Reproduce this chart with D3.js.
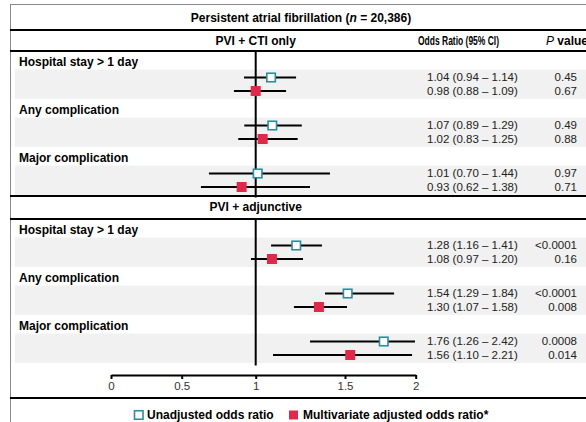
<!DOCTYPE html>
<html>
<head>
<meta charset="utf-8">
<script src="https://cdn.jsdelivr.net/npm/d3@7"></script>
<style>
  body { margin: 0; background: #fff; }
  svg { display: block; font-family: "Liberation Sans", Arial, Helvetica, sans-serif; }
  .bold { font-weight: bold; font-size: 12px; }
  .axis text { font-size: 11.5px; fill: #333; }
</style>
</head>
<body>
<div id="chart"></div>
<script>
// Data (plotted positions; labels as printed)
const sectionTitles = ['PVI + CTI only', 'PVI + adjunctive'];
const groupLabels = ['Hospital stay > 1 day', 'Any complication', 'Major complication'];

const unadjEst = [[1.086, 1.093, 1.011], [1.227, 1.519, 1.774]];
const unadjLo  = [[0.921, 0.923, 0.684], [1.086, 1.388, 1.304]];
const unadjHi  = [[1.226, 1.258, 1.416], [1.371, 1.847, 1.995]];

const adjEst = [[1.000, 1.039, 0.905], [1.091, 1.354, 1.537]];
const adjLo  = [[0.853, 0.882, 0.630], [0.968, 1.214, 1.097]];
const adjHi  = [[1.170, 1.235, 1.304], [1.265, 1.514, 1.974]];

const unadjText = [['1.04 (0.94 – 1.14)', '1.07 (0.89 – 1.29)', '1.01 (0.70 – 1.44)'],
                   ['1.28 (1.16 – 1.41)', '1.54 (1.29 – 1.84)', '1.76 (1.26 – 2.42)']];
const adjText   = [['0.98 (0.88 – 1.09)', '1.02 (0.83 – 1.25)', '0.93 (0.62 – 1.38)'],
                   ['1.08 (0.97 – 1.20)', '1.30 (1.07 – 1.58)', '1.56 (1.10 – 2.21)']];
const unadjP = [['0.45', '0.49', '0.97'], ['<0.0001', '<0.0001', '0.0008']];
const adjP   = [['0.67', '0.88', '0.71'], ['0.16', '0.008', '0.014']];

const tickVals = [0, 0.5, 1, 1.5, 2];

const W = 586, H = 422;
const teal = '#2b8d9e', red = '#e0294a', band = '#f0f1f0';

const svg = d3.select('#chart').append('svg')
    .attr('width', W)
    .attr('height', H);

// x scale follows the (uneven) tick spacing of the printed axis
const x = d3.scaleLinear()
    .domain(tickVals)
    .range([111, 181.7, 255.7, 345, 415.7]);

// frame
svg.append('rect')
    .attr('x', 10.5).attr('y', 4.5)
    .attr('width', 600).attr('height', 440)
    .attr('fill', 'none')
    .attr('stroke', '#8a8a8a');

// title
const title = svg.append('text')
    .attr('class', 'bold')
    .attr('x', 301).attr('y', 18)
    .attr('dy', '0.35em')
    .attr('text-anchor', 'middle');
title.append('tspan').text('Persistent atrial fibrillation (');
title.append('tspan').style('font-style', 'italic').text('n');
title.append('tspan').text(' = 20,386)');

// column headers
svg.append('text')
    .attr('class', 'bold')
    .attr('x', 418).attr('y', 40.5)
    .attr('dy', '0.35em')
    .attr('textLength', 81)
    .attr('lengthAdjust', 'spacingAndGlyphs')
    .text('Odds Ratio (95% CI)');
const pHead = svg.append('text')
    .attr('class', 'bold')
    .attr('x', 546).attr('y', 40.5)
    .attr('dy', '0.35em');
pHead.append('tspan').style('font-style', 'italic').style('font-weight', 'normal').text('P');
pHead.append('tspan').text(' value');

// sections
const sectionTop = [51, 219];
const sectionHeaderY = [40.5, 207];
const bandH = 29.5;
const bandTop = (s, g) => sectionTop[s] + 18.5 + g * 48;

sectionTitles.forEach((st, s) => {
  const g = svg.append('g');

  g.append('text')
      .attr('class', 'bold')
      .attr('x', x(1)).attr('y', sectionHeaderY[s])
      .attr('dy', '0.35em')
      .attr('text-anchor', 'middle')
      .text(st);

  // bands + group labels
  groupLabels.forEach((lab, gi) => {
    g.append('rect')
        .attr('x', 15).attr('y', bandTop(s, gi))
        .attr('width', W - 15).attr('height', bandH)
        .attr('fill', band);
    g.append('text')
        .attr('class', 'bold')
        .attr('x', 19).attr('y', bandTop(s, gi) - 7.5)
        .attr('dy', '0.35em')
        .text(lab);
  });

  // reference line at OR = 1
  g.append('line')
      .attr('x1', x(1)).attr('x2', x(1))
      .attr('y1', sectionTop[s])
      .attr('y2', bandTop(s, 2) + bandH + 2.5)
      .attr('stroke', '#000')
      .attr('stroke-width', 2);

  // rows
  const rows = [];
  groupLabels.forEach((lab, gi) => {
    rows.push({y: bandTop(s, gi) + 8, est: unadjEst[s][gi], lo: unadjLo[s][gi], hi: unadjHi[s][gi],
               txt: unadjText[s][gi], p: unadjP[s][gi], adj: false});
    rows.push({y: bandTop(s, gi) + 21.5, est: adjEst[s][gi], lo: adjLo[s][gi], hi: adjHi[s][gi],
               txt: adjText[s][gi], p: adjP[s][gi], adj: true});
  });

  g.selectAll('.ci')
      .data(rows)
    .join('line')
      .attr('class', 'ci')
      .attr('x1', d => x(d.lo)).attr('x2', d => x(d.hi))
      .attr('y1', d => d.y).attr('y2', d => d.y)
      .attr('stroke', '#000')
      .attr('stroke-width', 2);

  g.selectAll('.pt')
      .data(rows)
    .join('rect')
      .attr('class', 'pt')
      .attr('x', d => x(d.est) - (d.adj ? 5 : 4.25))
      .attr('y', d => d.y - (d.adj ? 5 : 4.25))
      .attr('width', d => d.adj ? 10 : 8.5)
      .attr('height', d => d.adj ? 10 : 8.5)
      .attr('fill', d => d.adj ? red : '#fff')
      .attr('stroke', d => d.adj ? 'none' : teal)
      .attr('stroke-width', 1.6);

  g.selectAll('.ortxt')
      .data(rows)
    .join('text')
      .attr('class', 'ortxt')
      .attr('x', 427).attr('y', d => d.y - 0.5)
      .attr('dy', '0.35em')
      .style('font-size', '11.5px')
      .attr('fill', '#222')
      .text(d => d.txt);

  g.selectAll('.ptxt')
      .data(rows)
    .join('text')
      .attr('class', 'ptxt')
      .attr('x', 577).attr('y', d => d.y - 0.5)
      .attr('dy', '0.35em')
      .attr('text-anchor', 'end')
      .style('font-size', '11.5px')
      .attr('fill', '#222')
      .text(d => d.p);
});

// thick rules
[30, 51, 196, 219, 398].forEach(y => {
  svg.append('line')
      .attr('x1', 10).attr('x2', W)
      .attr('y1', y).attr('y2', y)
      .attr('stroke', '#000')
      .attr('stroke-width', 2);
});

// x axis
const xAxis = d3.axisBottom(x)
    .tickValues(tickVals)
    .tickFormat(d => String(d))
    .tickSize(4)
    .tickSizeOuter(0)
    .tickPadding(3);

const axisG = svg.append('g')
    .attr('class', 'axis')
    .attr('transform', 'translate(0,375)')
    .call(xAxis);
axisG.select('.domain').attr('stroke-width', 2);
axisG.selectAll('.tick line').attr('stroke-width', 2);

// legend
const legY = 415;
const leg = svg.append('g');
leg.append('rect')
    .attr('x', 134.5).attr('y', legY - 4.25)
    .attr('width', 8.5).attr('height', 8.5)
    .attr('fill', '#fff')
    .attr('stroke', teal)
    .attr('stroke-width', 1.6);
leg.append('text')
    .attr('class', 'bold')
    .attr('x', 147).attr('y', legY)
    .attr('dy', '0.35em')
    .text('Unadjusted odds ratio');
leg.append('rect')
    .attr('x', 289).attr('y', legY - 4.5)
    .attr('width', 9).attr('height', 9)
    .attr('fill', red);
leg.append('text')
    .attr('class', 'bold')
    .attr('x', 303).attr('y', legY)
    .attr('dy', '0.35em')
    .text('Multivariate adjusted odds ratio*');
</script>
</body>
</html>
